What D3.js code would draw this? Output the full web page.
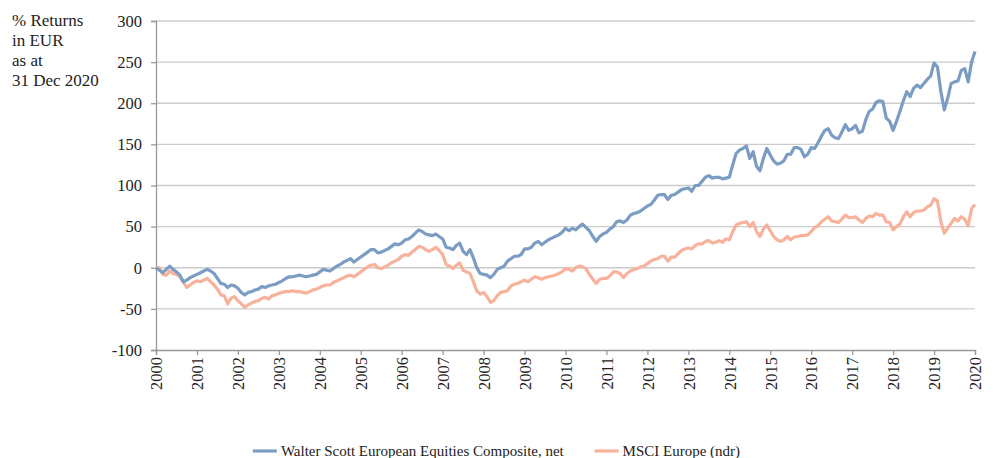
<!DOCTYPE html>
<html>
<head>
<meta charset="utf-8">
<script src="https://cdn.jsdelivr.net/npm/d3@7"></script>
<style>
  body { margin: 0; background: #fff; }
  svg { display: block; }
</style>
</head>
<body>
<div id="chart"></div>
<script>
// Monthly cumulative % returns in EUR, first value = Dec 1999 base, last = Dec 2020
const startYear = 2000;
const yearTicks = [2000, 2001, 2002, 2003, 2004, 2005, 2006, 2007, 2008, 2009, 2010,
                   2011, 2012, 2013, 2014, 2015, 2016, 2017, 2018, 2019, 2020];
const valueTicks = [-100, -50, 0, 50, 100, 150, 200, 250, 300];
const titleLines = ['% Returns', 'in EUR', 'as at', '31 Dec 2020'];
const seriesNames = ['Walter Scott European Equities Composite, net', 'MSCI Europe (ndr)'];

const walterScott = [
  0, -3, -6, -2, 2, -2, -5, -9, -17, -15, -12, -10,
  -8, -6, -4, -2, -4, -7, -13, -19, -20, -24, -21, -22,
  -25, -30, -33, -30, -29, -27, -26, -23, -24, -22, -21, -20,
  -18, -16, -13, -11, -11, -10, -9, -10, -11, -10, -9, -8,
  -5, -2, -3, -4, -1, 2, 4, 7, 9, 11, 7, 10,
  13, 16, 19, 22, 22, 18, 19, 21, 23, 26, 29, 28,
  30, 34, 35, 38, 42, 46, 44, 41, 40, 39, 41, 38,
  35, 25, 24, 22, 27, 30, 20, 16, 22, 12, 0, -7,
  -8, -9, -12, -8, -2, 0, 2, 8, 11, 14, 14, 16,
  23, 23, 25, 30, 32, 28, 31, 34, 36, 38, 40, 43,
  48, 45, 48, 46, 50, 53, 49, 45, 38, 32, 38, 41,
  43, 47, 50, 56, 57, 55, 58, 64, 66, 67, 69, 72,
  75, 77, 82, 88, 89, 89, 83, 88, 89, 92, 95, 96,
  97, 93, 100, 100, 105, 110, 112, 109, 110, 110, 108, 109,
  110, 125, 139, 143, 145, 148, 133, 141, 123, 118, 133, 145,
  137, 130, 126, 127, 130, 138, 138, 146, 146, 144, 135, 138,
  146, 145, 152, 160, 167, 169, 161, 158, 157, 165, 174, 167,
  169, 173, 164, 166, 180, 190, 193, 201, 203, 202, 182, 178,
  167, 178, 190, 203, 214, 208, 218, 222, 219, 224, 229, 233,
  249, 244, 214, 192, 206, 224, 226, 227, 240, 242, 226, 250,
  263
];

const msciEurope = [
  0, 0, -8, -9, -4, -7, -8, -11, -17, -24, -21, -18,
  -16, -17, -15, -13, -17, -21, -26, -33, -34, -44, -37, -35,
  -40, -44, -48, -45, -43, -41, -40, -37, -36, -38, -34, -33,
  -31, -30, -29, -29, -28, -29, -29, -30, -31, -29, -27, -26,
  -24, -22, -21, -21, -18, -16, -14, -12, -10, -9, -11, -8,
  -5, -2, 1, 3, 4, 0, -1, 1, 3, 6, 8, 10,
  14, 16, 15, 19, 22, 26, 25, 22, 20, 22, 25, 21,
  16, 4, 2, -1, 3, 6, -3, -5, -7, -17, -28, -32,
  -30, -35, -42, -40, -34, -30, -29, -28, -22, -20, -19, -17,
  -15, -17, -14, -11, -12, -14, -12, -11, -10, -9, -7, -5,
  -1, -2, -4, 0, 2, 1, -1, -8, -14, -19, -14, -13,
  -13, -10, -5, -5, -7, -12, -7, -4, -2, -1, 1, 2,
  5, 8, 10, 11, 14, 14, 8, 13, 13, 17, 21, 23,
  24, 23, 27, 29, 29, 32, 33, 30, 31, 33, 31, 35,
  34, 44, 52, 54, 55, 56, 50, 55, 44, 38, 47, 52,
  45, 38, 34, 32, 34, 38, 34, 37, 38, 39, 39, 40,
  44, 49, 51, 56, 59, 62, 57, 56, 55, 59, 64, 61,
  61, 62, 58, 55, 60, 63, 62, 66, 64, 64, 56, 55,
  46, 50, 53, 62, 68, 62, 67, 69, 69, 70, 74, 76,
  84, 81, 56, 42, 48, 54, 60, 57, 62, 59, 51, 72,
  77
];

const seriesColors = ['#7b9cc3', '#f8b29b'];

const svgWidth = 993;
const svgHeight = 458;
const margin = { top: 21, right: 18, bottom: 108, left: 156 };
const fontFamily = '"Liberation Serif", "DejaVu Serif", serif';

const svg = d3.select('#chart')
  .append('svg')
  .attr('width', svgWidth)
  .attr('height', svgHeight)
  .style('font-family', fontFamily);

const x = d3.scaleLinear()
  .domain([yearTicks[0], yearTicks[yearTicks.length - 1]])
  .range([margin.left, svgWidth - margin.right]);

const y = d3.scaleLinear()
  .domain([valueTicks[0], valueTicks[valueTicks.length - 1]])
  .range([svgHeight - margin.bottom, margin.top]);

// Gridlines
svg.append('g')
  .selectAll('line')
  .data(valueTicks.slice(1))
  .enter()
  .append('line')
  .attr('x1', x.range()[0])
  .attr('x2', x.range()[1])
  .attr('y1', d => y(d))
  .attr('y2', d => y(d))
  .attr('stroke', '#cccccc')
  .attr('stroke-width', 1.3);

// Y axis (plain hyphen for negatives, as in the original)
const yAxis = svg.append('g')
  .attr('transform', `translate(${margin.left},0)`)
  .call(d3.axisLeft(y).tickValues(valueTicks).tickFormat(d => String(d)).tickSize(5).tickPadding(9));
yAxis.attr('font-family', null);
yAxis.selectAll('text')
  .style('font-size', '16.5px')
  .attr('fill', '#222');

// X axis
const xAxis = svg.append('g')
  .attr('transform', `translate(0,${y(valueTicks[0])})`)
  .call(d3.axisBottom(x).tickValues(yearTicks).tickFormat(d => String(d)).tickSize(5));
xAxis.attr('font-family', null);
xAxis.selectAll('text')
  .style('font-size', '16.5px')
  .attr('fill', '#222')
  .attr('text-anchor', 'end')
  .attr('transform', 'rotate(-90)')
  .attr('x', -7)
  .attr('y', 0)
  .attr('dy', '0.35em');

svg.selectAll('.domain, .tick line')
  .attr('stroke', '#999')
  .attr('stroke-width', 1.3);

// Lines
const line = d3.line()
  .x((d, i) => x(startYear + i / 12))
  .y(d => y(d));

// benchmark first so the composite sits on top
[msciEurope, walterScott].forEach((series, k) => {
  svg.append('path')
    .datum(series)
    .attr('fill', 'none')
    .attr('stroke', seriesColors[1 - k])
    .attr('stroke-width', 3.2)
    .attr('stroke-linejoin', 'round')
    .attr('d', line);
});

// Title in the top-left corner
svg.append('text')
  .attr('x', 12)
  .attr('y', 26)
  .style('font-size', '17px')
  .attr('fill', '#222')
  .selectAll('tspan')
  .data(titleLines)
  .enter()
  .append('tspan')
  .attr('x', 12)
  .attr('dy', (d, i) => i === 0 ? 0 : 20)
  .text(d => d);

// Legend
const legend = svg.append('g');
const legendItems = legend.selectAll('g')
  .data(seriesNames)
  .enter()
  .append('g');

legendItems.append('line')
  .attr('x1', 0)
  .attr('x2', 24)
  .attr('y1', 0)
  .attr('y2', 0)
  .attr('stroke', (d, i) => seriesColors[i])
  .attr('stroke-width', 3.2);

legendItems.append('text')
  .attr('x', 28)
  .attr('y', 0)
  .attr('dy', '0.32em')
  .style('font-size', '15px')
  .attr('fill', '#222')
  .text(d => d);

let offset = 0;
legendItems.each(function () {
  const w = this.getBBox().width;
  d3.select(this).attr('transform', `translate(${offset},0)`);
  offset += w + 30;
});
const legendWidth = offset - 30;
legend.attr('transform', `translate(${(svgWidth - legendWidth) / 2},451)`);
</script>
</body>
</html>
